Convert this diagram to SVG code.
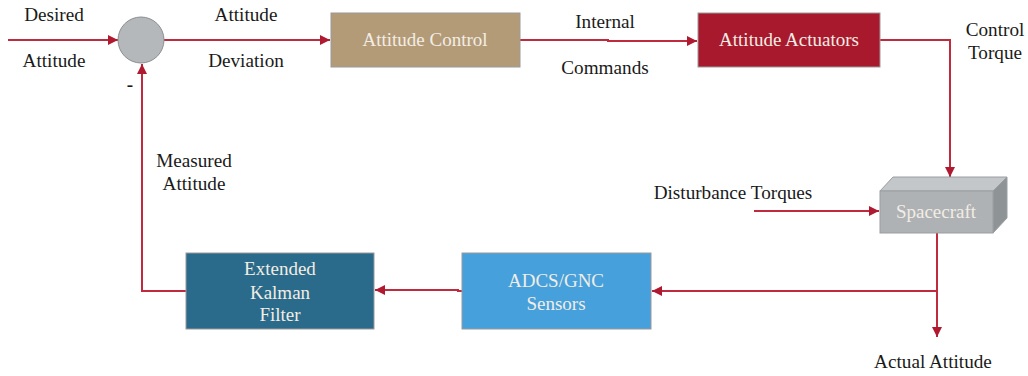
<svg xmlns="http://www.w3.org/2000/svg" width="1028" height="376" viewBox="0 0 1028 376">
<style>
.lbl{font-family:"Liberation Serif","Times New Roman",serif;font-size:19.2px;fill:#1a1a1a;text-anchor:middle}
.wt{font-family:"Liberation Serif","Times New Roman",serif;font-size:19px;fill:#f2ede4;text-anchor:middle}
.ln{fill:none;stroke:#c02a3e;stroke-width:2}
.box{stroke:#9a9a9a;stroke-width:1}
</style>
<defs>
<marker id="ah" viewBox="0 0 10 10" refX="10" refY="5" markerWidth="5" markerHeight="5" orient="auto" markerUnits="strokeWidth">
<path d="M0,0 L10,5 L0,10 Z" fill="#b01a30"/>
</marker>
</defs>
<g id="connectors">
<path class="ln" d="M8,40 H118" marker-end="url(#ah)"/>
<path class="ln" d="M164,40 H330" marker-end="url(#ah)"/>
<path class="ln" d="M520,40 H608 V41 H697" marker-end="url(#ah)"/>
<path class="ln" d="M880,40 H950 V177" marker-end="url(#ah)"/>
<path class="ln" d="M754,211 H879" marker-end="url(#ah)"/>
<path class="ln" d="M937,233 V337" marker-end="url(#ah)"/>
<path class="ln" d="M937,291 H652" marker-end="url(#ah)"/>
<path class="ln" d="M462,291 H458 V290 H375" marker-end="url(#ah)"/>
<path class="ln" d="M186,291 H142 V64" marker-end="url(#ah)"/>
</g>
<g id="sum">
<circle cx="141" cy="40" r="23" fill="#b4b8bb" stroke="#8a8e91" stroke-width="1"/>
<text class="lbl" x="130" y="91" style="font-weight:bold">-</text>
</g>
<g id="attitude-control">
<rect class="box" x="331" y="13" width="189" height="54" fill="#b49b78"/>
<text class="wt" x="425" y="46">Attitude Control</text>
</g>
<g id="attitude-actuators">
<rect class="box" x="698" y="13" width="182" height="54" fill="#a8192e"/>
<text class="wt" x="789" y="46">Attitude Actuators</text>
</g>
<g id="spacecraft">
<path d="M880,191 L893,177 H1007 L993,191 Z" fill="#c4c7c9" stroke="#9a9ea1" stroke-width="1"/>
<path d="M993,191 L1007,177 V218 L993,233 Z" fill="#8e9396" stroke="#9a9ea1" stroke-width="1"/>
<rect x="880" y="191" width="113" height="42" fill="#aeb2b5" stroke="#9a9ea1" stroke-width="1"/>
<text class="wt" x="936" y="218">Spacecraft</text>
</g>
<g id="sensors">
<rect class="box" x="462" y="253" width="189" height="76" fill="#45a0dc"/>
<text class="wt" x="556" y="287">ADCS/GNC</text>
<text class="wt" x="556" y="310">Sensors</text>
</g>
<g id="ekf">
<rect class="box" x="186" y="253" width="188" height="76" fill="#2a6a8a"/>
<text class="wt" x="280" y="275">Extended</text>
<text class="wt" x="280" y="299">Kalman</text>
<text class="wt" x="280" y="321">Filter</text>
</g>
<g id="labels">
<text class="lbl" x="54" y="21">Desired</text>
<text class="lbl" x="54" y="67">Attitude</text>
<text class="lbl" x="246" y="21">Attitude</text>
<text class="lbl" x="246" y="67">Deviation</text>
<text class="lbl" x="605" y="28">Internal</text>
<text class="lbl" x="605" y="74">Commands</text>
<text class="lbl" x="995" y="36">Control</text>
<text class="lbl" x="995" y="59">Torque</text>
<text class="lbl" x="733" y="199">Disturbance Torques</text>
<text class="lbl" x="194" y="167">Measured</text>
<text class="lbl" x="194" y="190">Attitude</text>
<text class="lbl" x="933" y="368">Actual Attitude</text>
</g>
</svg>
